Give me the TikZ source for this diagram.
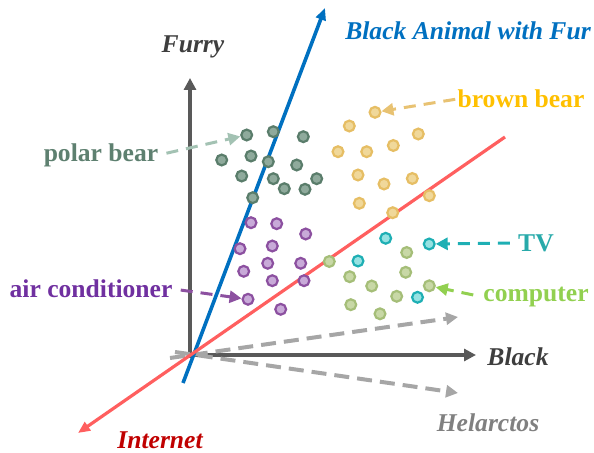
\documentclass[tikz,border=0pt]{standalone}
\usepackage{fontspec}
\setmainfont{Liberation Serif}
\usetikzlibrary{arrows.meta}

\definecolor{axisgray}{HTML}{595959}
\definecolor{helgray}{HTML}{A6A6A6}
\definecolor{helgraytext}{HTML}{808080}
\definecolor{furblue}{HTML}{0070C0}
\definecolor{netred}{HTML}{FF5F5F}
\definecolor{netredtext}{HTML}{C00000}
\definecolor{pbfill}{HTML}{8FAA9C}
\definecolor{pbdraw}{HTML}{5A7D6B}
\definecolor{pbtext}{HTML}{5E8070}
\definecolor{pbarrow}{HTML}{A3C2B3}
\definecolor{bbfill}{HTML}{F0D89A}
\definecolor{bbdraw}{HTML}{E6BE64}
\definecolor{bbtext}{HTML}{FFC000}
\definecolor{bbarrow}{HTML}{E8C272}
\definecolor{acfill}{HTML}{C8AAD8}
\definecolor{acdraw}{HTML}{8C50A0}
\definecolor{actext}{HTML}{7030A0}
\definecolor{tvfill}{HTML}{96E2E2}
\definecolor{tvdraw}{HTML}{1EAFB4}
\definecolor{tvtext}{HTML}{28AAAA}
\definecolor{cofill}{HTML}{C8D8A6}
\definecolor{codraw}{HTML}{A5BE78}
\definecolor{cotext}{HTML}{92D050}

\tikzset{
  dot/.style={circle, inner sep=0pt, minimum size=5.4pt, line width=1.1pt},
  pbdot/.style={dot, draw=pbdraw, fill=pbfill},
  bbdot/.style={dot, draw=bbdraw, fill=bbfill},
  acdot/.style={dot, draw=acdraw, fill=acfill},
  tvdot/.style={dot, draw=tvdraw, fill=tvfill},
  codot/.style={dot, draw=codraw, fill=cofill},
  lbl/.style={font=\fontsize{12.8}{15}\selectfont\bfseries, inner sep=0pt},
  axlbl/.style={lbl, font=\fontsize{12.8}{15}\selectfont\bfseries\itshape},
  ptr/.style={dash pattern=on 6pt off 4pt, line width=1.5pt, -{Triangle[length=6pt,width=6pt]}},
}

\begin{document}
\begin{tikzpicture}[x=0.5pt,y=-0.5pt]
\useasboundingbox (0,0) rectangle (594,453);

\coordinate (O) at (190,355);
\coordinate (FB) at (190,358);
\coordinate (FT) at (190,78);
\coordinate (BL) at (188,355);
\coordinate (BR) at (476,355);
\coordinate (UB) at (183,383);
\coordinate (UT) at (325,8);
\coordinate (IT) at (505,137);
\coordinate (IB) at (78,433);
\coordinate (H1) at (170,358);
\coordinate (H2) at (458,317);
\coordinate (H3) at (175,352);
\coordinate (H4) at (458,393);

% axes
\draw[axisgray, line width=2pt, -{Triangle[length=6pt,width=6pt]}] (FB) -- (FT);
\draw[axisgray, line width=2pt, -{Triangle[length=6pt,width=6pt]}] (BL) -- (BR);

\draw[helgray, ptr, line width=2pt, dash pattern=on 7.5pt off 4pt] (H1) -- (H2);
\draw[helgray, ptr, line width=2pt, dash pattern=on 7.5pt off 4pt] (H3) -- (H4);

\draw[furblue, line width=1.8pt, -{Triangle[length=6pt,width=5pt]}] (UB) -- (UT);
\draw[netred, line width=1.6pt, -{Triangle[length=6pt,width=5pt]}] (IT) -- (IB);

\node[axlbl, text=axisgray!70!black] (F) at (193,47) {Furry};
\node[axlbl, text=axisgray!70!black] (B) at (518,357) {Black};
\node[axlbl, text=furblue] (U) at (468,31) {Black Animal with Fur};
\node[axlbl, text=netredtext] (I) at (160,440) {Internet};
\node[axlbl, text=helgraytext] (H) at (488,423) {Helarctos};

% polar bear
\foreach \x/\y [count=\i] in {246.7/135, 273.3/131.7, 303.3/136.7, 221.7/160, 251/156,
  268.3/161.7, 296.7/165, 241.7/176, 273.3/178.7, 316.7/178.7, 284.3/188.7, 305/189.3,
  252.7/197.7}
  \node[pbdot] (P\i) at (\x,\y) {};

% brown bear
\foreach \x/\y [count=\i] in {375/112.3, 349.3/126, 418.3/134, 338/151.7, 366.7/151.7,
  393.3/145.5, 358/175, 384/184, 412.3/178.5, 359.3/203.3, 392.7/212.7, 429.3/195.7}
  \node[bbdot] (Y\i) at (\x,\y) {};

% air conditioner
\foreach \x/\y [count=\i] in {251/222.7, 276.7/223.7, 305.7/234, 240/248.7, 272.3/246,
  267.7/263.3, 300.7/263.3, 243.7/271.3, 272.3/280.7, 304/280.7, 248/299.3, 280.7/309.3}
  \node[acdot] (A\i) at (\x,\y) {};

% TV
\foreach \x/\y [count=\i] in {385.7/238.3, 429.2/244, 358/261, 417.5/297.3}
  \node[tvdot] (T\i) at (\x,\y) {};

% computer
\foreach \x/\y [count=\i] in {329.3/261.5, 406.7/252.5, 349.7/276.7, 405.7/272.3,
  371.7/286, 396.7/296.3, 429.3/285.8, 350.8/304.7, 380/313.8}
  \node[codot] (C\i) at (\x,\y) {};

\node[lbl, text=pbtext] (PL) at (101,155) {polar bear};
\node[lbl, text=bbtext] (YL) at (521,99) {brown bear};
\node[lbl, text=actext] (AL) at (91,289) {air conditioner};
\node[lbl, text=tvtext] (TL) at (536,243) {TV};
\node[lbl, text=cotext] (CL) at (536,297) {computer};

\draw[ptr, pbarrow, shorten <=4pt] (PL.east) -- (P1);
\draw[ptr, bbarrow, shorten <=1pt] (YL.west) -- (Y1);
\draw[ptr, acdraw, shorten <=4pt] (AL.east) -- (A11);
\draw[ptr, tvdraw, shorten <=4pt] (TL.west) -- (T2);
\draw[ptr, cotext, shorten <=5pt] (CL.west) -- (C7);
\end{tikzpicture}
\end{document}
